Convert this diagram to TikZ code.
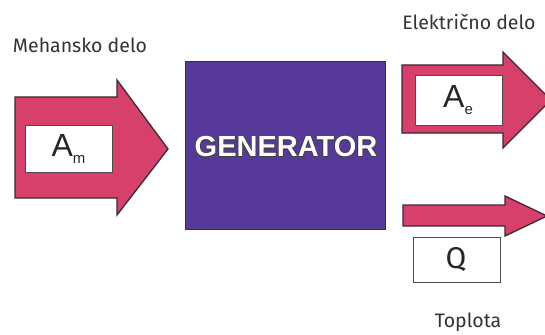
\documentclass[tikz,border=0pt]{standalone}
\usepackage{fontspec}
\setmainfont{Fira Sans}
\newfontfamily\arial{Liberation Sans}
\definecolor{arrowpink}{HTML}{D6406A}
\definecolor{genpurple}{HTML}{57399A}
\definecolor{edgedark}{HTML}{3A2A33}
\begin{document}
\begin{tikzpicture}[x=1pt,y=-1pt,
  flow/.style={fill=arrowpink, draw=edgedark, line width=1.3pt, line join=miter},
  caption/.style={font=\fontsize{19.5}{22}\selectfont, text=black!80},
  tag/.style={draw=black!70, fill=white, line width=0.8pt},
  sym/.style={font=\arial\fontsize{32}{32}\selectfont, text=black!85},
  gentext/.style={font=\arial\bfseries\fontsize{29}{30}\selectfont}]
\useasboundingbox (0,0) rectangle (545,334);
\fill[white] (0,0) rectangle (545,334);

% mechanical work entering
\draw[flow] (15,97) -- (117,97) -- (117,80) -- (168,149) -- (117,215) -- (117,198) -- (15,198) -- cycle;
\draw[tag] (25,125) rectangle (112,172);
\node[sym] (am) at (68.5,148.5) {A\raisebox{-7pt}{\fontsize{15}{15}\selectfont m}};
\node[caption] (mech) at (80,45) {Mehansko delo};

% generator block, its label with a thin dark outline
\draw[fill=genpurple, draw=black!80, line width=1pt] (185,62) rectangle (385,229);
\foreach \dx/\dy in {0.7/0,-0.7/0,0/0.7,0/-0.7,0.5/0.5,-0.5/0.5,0.5/-0.5,-0.5/-0.5}
  \node[gentext, text=black!75] at (286+\dx,147+\dy) {GENERATOR};
\node[gentext, text=white] (gen) at (286,147) {GENERATOR};

% electrical work leaving
\draw[flow] (402,65) -- (503,65) -- (503,52) -- (551,100) -- (503,148) -- (503,133) -- (402,133) -- cycle;
\draw[tag] (415,75) rectangle (502,125);
\node[sym] (ae) at (458,100) {A\raisebox{-7pt}{\fontsize{15}{15}\selectfont e}};
\node[caption] (elec) at (469,22) {Električno delo};

% heat leaving
\draw[flow] (403,205) -- (505,205) -- (505,196) -- (547,216) -- (505,236) -- (505,226) -- (403,226) -- cycle;
\draw[tag] (413,237) rectangle (500,282);
\node[font=\fontsize{30}{30}\selectfont, text=black!85] (q) at (456,259.5) {Q};
\node[caption] (heat) at (468,322) {Toplota};
\end{tikzpicture}
\end{document}
